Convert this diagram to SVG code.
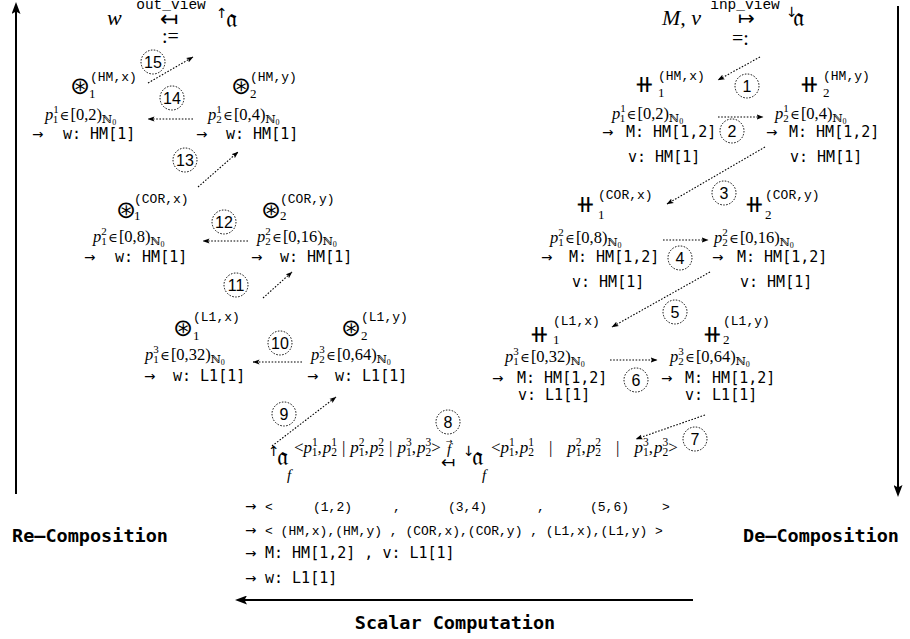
<svg xmlns="http://www.w3.org/2000/svg" width="910" height="639" viewBox="0 0 910 639">
<style>
text{fill:#000}
.mi{font-family:"Liberation Serif","DejaVu Serif",serif;font-style:italic}
.mr{font-family:"Liberation Serif","DejaVu Serif",serif}
.sy{font-family:"DejaVu Sans","Noto Sans",sans-serif}
.tt{font-family:"Liberation Mono","DejaVu Sans Mono",monospace}
.bm{font-family:"DejaVu Sans Mono",monospace;font-size:15px}
.ar{font-family:"DejaVu Sans",sans-serif;font-size:13.5px}
.op{font-family:"DejaVu Sans",sans-serif;font-size:24px}
.sup{font-family:"Liberation Mono","DejaVu Sans Mono",monospace;font-size:13px}
.sub{font-family:"Liberation Serif","DejaVu Serif",serif;font-size:13px}
.pl{font-family:"Liberation Serif","DejaVu Serif",serif;font-size:16.5px}
.it{font-style:italic}
.sc{font-size:11px}
.in{font-size:13px;font-family:"DejaVu Serif",serif}
.nn{font-size:11px;font-family:"DejaVu Serif",serif}
.n0{font-size:8px}
.sp{font-family:"Liberation Serif","DejaVu Serif",serif;font-size:17px}
.ss{font-size:11.5px}
.fr{font-family:"DejaVu Serif","DejaVu Sans","Noto Sans",serif;font-size:26px}
.bl{font-family:"DejaVu Sans Mono",monospace;font-weight:bold;font-size:18.5px}
.lt{font-family:"Liberation Mono","DejaVu Sans Mono",monospace;font-size:13px}
.dot{fill:none;stroke:#000;stroke-width:1.1;stroke-dasharray:1.6 1.6;marker-end:url(#sm)}
.big{fill:none;stroke:#000;stroke-width:2;marker-end:url(#bg)}
.cl circle{fill:#fff;stroke:#000;stroke-width:1;stroke-dasharray:1.5 1.5}
.cl text{font-family:"Liberation Sans","DejaVu Sans",sans-serif;font-size:16px;text-anchor:middle}
</style>
<defs>
<marker id="sm" markerUnits="userSpaceOnUse" markerWidth="7" markerHeight="6" refX="6.5" refY="3" orient="auto"><path d="M0,0.4 L7,3 L0,5.6 L1.5,3 z" fill="#000"/></marker>
<marker id="bg" markerUnits="userSpaceOnUse" markerWidth="12" markerHeight="9" refX="7" refY="4.5" orient="auto"><path d="M0,0 L12,4.5 L0,9 L2.5,4.5 z" fill="#000"/></marker>
</defs>

<g id="connectors">
<line class="big" x1="16" y1="494" x2="16" y2="7"/>
<line class="big" x1="898" y1="6" x2="898" y2="492"/>
<line class="big" x1="693" y1="600" x2="240" y2="600"/>
<line class="dot" x1="148" y1="83" x2="193" y2="57"/>
<line class="dot" x1="193" y1="119" x2="148" y2="119"/>
<line class="dot" x1="198" y1="187" x2="238" y2="152"/>
<line class="dot" x1="248" y1="241" x2="203" y2="241"/>
<line class="dot" x1="263" y1="298" x2="292" y2="272"/>
<line class="dot" x1="302" y1="362" x2="253" y2="362"/>
<line class="dot" x1="272" y1="446" x2="336" y2="397"/>
<line class="dot" x1="760" y1="57" x2="718" y2="80"/>
<line class="dot" x1="718" y1="117" x2="763" y2="117"/>
<line class="dot" x1="765" y1="147" x2="667" y2="204"/>
<line class="dot" x1="663" y1="240" x2="708" y2="240"/>
<line class="dot" x1="710" y1="272" x2="612" y2="327"/>
<line class="dot" x1="610" y1="360" x2="657" y2="360"/>
<line class="dot" x1="705" y1="415" x2="636" y2="439"/>
</g>

<g id="labels" class="cl">
<circle cx="153" cy="62" r="12"/><text x="153" y="67.5">15</text>
<circle cx="172" cy="98" r="12"/><text x="172" y="103.5">14</text>
<circle cx="185" cy="160" r="12"/><text x="185" y="165.5">13</text>
<circle cx="224" cy="222" r="12"/><text x="224" y="227.5">12</text>
<circle cx="236" cy="285" r="12"/><text x="236" y="290.5">11</text>
<circle cx="280" cy="343" r="12"/><text x="280" y="348.5">10</text>
<circle cx="284" cy="414" r="12"/><text x="284" y="419.5">9</text>
<circle cx="448" cy="422" r="12"/><text x="448" y="427.5">8</text>
<circle cx="747" cy="86" r="12"/><text x="747" y="91.5">1</text>
<circle cx="732" cy="131" r="12"/><text x="732" y="136.5">2</text>
<circle cx="724" cy="193" r="12"/><text x="724" y="198.5">3</text>
<circle cx="680" cy="258" r="12"/><text x="680" y="263.5">4</text>
<circle cx="675" cy="312" r="12"/><text x="675" y="317.5">5</text>
<circle cx="636" cy="380" r="12"/><text x="636" y="385.5">6</text>
<circle cx="695" cy="439" r="12"/><text x="695" y="444.5">7</text>
</g>

<g id="out-view">
<text x="107" y="25" class="mi" font-size="22">w</text>
<text x="171" y="9" class="tt" font-size="14.5" text-anchor="middle">out_view</text>
<text x="160" y="26" class="sy" font-size="22">↤</text>
<text x="162" y="43" class="mr" font-size="20">:=</text>
<text x="216" y="18" class="sy" font-size="14">↑</text>
<text x="226" y="27" class="fr">𝔞</text>
</g>

<g id="inp-view">
<text x="662" y="25" class="mi" font-size="22">M, v</text>
<text x="745" y="9" class="tt" font-size="14.5" text-anchor="middle">inp_view</text>
<text x="738" y="25" class="sy" font-size="20">↦</text>
<text x="732" y="45" class="mr" font-size="20">=:</text>
<text x="786" y="17" class="sy" font-size="14">↓</text>
<text x="793" y="26" class="fr">𝔞</text>
</g>

<g id="rc-hm-x">
<text x="70" y="94" class="op">⊛</text>
<text x="90" y="81" class="sup">(HM,x)</text>
<text x="89" y="98" class="sub">1</text>
<text x="45" y="120" class="pl"><tspan class="it">p</tspan><tspan class="sc" dy="-7">1</tspan><tspan class="sc" dx="-5.5" dy="10">1</tspan><tspan class="in" dx="1.5" dy="-3">∈</tspan><tspan dx="1">[0,2)</tspan><tspan class="nn" dy="3">ℕ</tspan><tspan class="n0" dy="2">0</tspan></text>
<text x="32" y="139" class="ar">→</text>
<text x="63" y="139" class="bm">w: HM[1]</text>
</g>
<g id="rc-hm-y">
<text x="231" y="94" class="op">⊛</text>
<text x="250" y="81" class="sup">(HM,y)</text>
<text x="250" y="98" class="sub">2</text>
<text x="208" y="120" class="pl"><tspan class="it">p</tspan><tspan class="sc" dy="-7">1</tspan><tspan class="sc" dx="-5.5" dy="10">2</tspan><tspan class="in" dx="1.5" dy="-3">∈</tspan><tspan dx="1">[0,4)</tspan><tspan class="nn" dy="3">ℕ</tspan><tspan class="n0" dy="2">0</tspan></text>
<text x="196" y="139" class="ar">→</text>
<text x="226" y="139" class="bm">w: HM[1]</text>
</g>
<g id="rc-cor-x">
<text x="116" y="218" class="op">⊛</text>
<text x="134" y="203" class="sup">(COR,x)</text>
<text x="134" y="220" class="sub">1</text>
<text x="93" y="242" class="pl"><tspan class="it">p</tspan><tspan class="sc" dy="-7">2</tspan><tspan class="sc" dx="-5.5" dy="10">1</tspan><tspan class="in" dx="1.5" dy="-3">∈</tspan><tspan dx="1">[0,8)</tspan><tspan class="nn" dy="3">ℕ</tspan><tspan class="n0" dy="2">0</tspan></text>
<text x="84" y="262" class="ar">→</text>
<text x="115" y="262" class="bm">w: HM[1]</text>
</g>
<g id="rc-cor-y">
<text x="261" y="218" class="op">⊛</text>
<text x="280" y="203" class="sup">(COR,y)</text>
<text x="280" y="220" class="sub">2</text>
<text x="257" y="242" class="pl"><tspan class="it">p</tspan><tspan class="sc" dy="-7">2</tspan><tspan class="sc" dx="-5.5" dy="10">2</tspan><tspan class="in" dx="1.5" dy="-3">∈</tspan><tspan dx="1">[0,16)</tspan><tspan class="nn" dy="3">ℕ</tspan><tspan class="n0" dy="2">0</tspan></text>
<text x="251" y="262" class="ar">→</text>
<text x="280" y="262" class="bm">w: HM[1]</text>
</g>
<g id="rc-l1-x">
<text x="173" y="336" class="op">⊛</text>
<text x="193" y="321" class="sup">(L1,x)</text>
<text x="193" y="340" class="sub">1</text>
<text x="145" y="360" class="pl"><tspan class="it">p</tspan><tspan class="sc" dy="-7">3</tspan><tspan class="sc" dx="-5.5" dy="10">1</tspan><tspan class="in" dx="1.5" dy="-3">∈</tspan><tspan dx="1">[0,32)</tspan><tspan class="nn" dy="3">ℕ</tspan><tspan class="n0" dy="2">0</tspan></text>
<text x="144" y="381" class="ar">→</text>
<text x="173" y="381" class="bm">w: L1[1]</text>
</g>
<g id="rc-l1-y">
<text x="341" y="336" class="op">⊛</text>
<text x="361" y="321" class="sup">(L1,y)</text>
<text x="361" y="340" class="sub">2</text>
<text x="311" y="360" class="pl"><tspan class="it">p</tspan><tspan class="sc" dy="-7">3</tspan><tspan class="sc" dx="-5.5" dy="10">2</tspan><tspan class="in" dx="1.5" dy="-3">∈</tspan><tspan dx="1">[0,64)</tspan><tspan class="nn" dy="3">ℕ</tspan><tspan class="n0" dy="2">0</tspan></text>
<text x="307" y="381" class="ar">→</text>
<text x="335" y="381" class="bm">w: L1[1]</text>
</g>

<g id="dc-hm-x">
<text x="634" y="92" class="op">⧺</text>
<text x="658" y="80" class="sup">(HM,x)</text>
<text x="658" y="97" class="sub">1</text>
<text x="612" y="119" class="pl"><tspan class="it">p</tspan><tspan class="sc" dy="-7">1</tspan><tspan class="sc" dx="-5.5" dy="10">1</tspan><tspan class="in" dx="1.5" dy="-3">∈</tspan><tspan dx="1">[0,2)</tspan><tspan class="nn" dy="3">ℕ</tspan><tspan class="n0" dy="2">0</tspan></text>
<text x="602" y="137" class="ar">→</text>
<text x="626" y="137" class="bm">M: HM[1,2]</text>
<text x="628" y="162" class="bm">v: HM[1]</text>
</g>
<g id="dc-hm-y">
<text x="799" y="92" class="op">⧺</text>
<text x="823" y="80" class="sup">(HM,y)</text>
<text x="823" y="97" class="sub">2</text>
<text x="775" y="119" class="pl"><tspan class="it">p</tspan><tspan class="sc" dy="-7">1</tspan><tspan class="sc" dx="-5.5" dy="10">2</tspan><tspan class="in" dx="1.5" dy="-3">∈</tspan><tspan dx="1">[0,4)</tspan><tspan class="nn" dy="3">ℕ</tspan><tspan class="n0" dy="2">0</tspan></text>
<text x="766" y="137" class="ar">→</text>
<text x="789" y="137" class="bm">M: HM[1,2]</text>
<text x="790" y="162" class="bm">v: HM[1]</text>
</g>
<g id="dc-cor-x">
<text x="575" y="212" class="op">⧺</text>
<text x="598" y="199" class="sup">(COR,x)</text>
<text x="598" y="219" class="sub">1</text>
<text x="550" y="243" class="pl"><tspan class="it">p</tspan><tspan class="sc" dy="-7">2</tspan><tspan class="sc" dx="-5.5" dy="10">1</tspan><tspan class="in" dx="1.5" dy="-3">∈</tspan><tspan dx="1">[0,8)</tspan><tspan class="nn" dy="3">ℕ</tspan><tspan class="n0" dy="2">0</tspan></text>
<text x="541" y="262" class="ar">→</text>
<text x="569" y="262" class="bm">M: HM[1,2]</text>
<text x="572" y="287" class="bm">v: HM[1]</text>
</g>
<g id="dc-cor-y">
<text x="744" y="212" class="op">⧺</text>
<text x="765" y="199" class="sup">(COR,y)</text>
<text x="765" y="219" class="sub">2</text>
<text x="714" y="243" class="pl"><tspan class="it">p</tspan><tspan class="sc" dy="-7">2</tspan><tspan class="sc" dx="-5.5" dy="10">2</tspan><tspan class="in" dx="1.5" dy="-3">∈</tspan><tspan dx="1">[0,16)</tspan><tspan class="nn" dy="3">ℕ</tspan><tspan class="n0" dy="2">0</tspan></text>
<text x="712" y="262" class="ar">→</text>
<text x="737" y="262" class="bm">M: HM[1,2]</text>
<text x="740" y="287" class="bm">v: HM[1]</text>
</g>
<g id="dc-l1-x">
<text x="529" y="342" class="op">⧺</text>
<text x="553" y="325" class="sup">(L1,x)</text>
<text x="553" y="344" class="sub">1</text>
<text x="505" y="362" class="pl"><tspan class="it">p</tspan><tspan class="sc" dy="-7">3</tspan><tspan class="sc" dx="-5.5" dy="10">1</tspan><tspan class="in" dx="1.5" dy="-3">∈</tspan><tspan dx="1">[0,32)</tspan><tspan class="nn" dy="3">ℕ</tspan><tspan class="n0" dy="2">0</tspan></text>
<text x="492" y="383" class="ar">→</text>
<text x="517" y="383" class="bm">M: HM[1,2]</text>
<text x="518" y="400" class="bm">v: L1[1]</text>
</g>
<g id="dc-l1-y">
<text x="702" y="342" class="op">⧺</text>
<text x="723" y="325" class="sup">(L1,y)</text>
<text x="723" y="344" class="sub">2</text>
<text x="670" y="362" class="pl"><tspan class="it">p</tspan><tspan class="sc" dy="-7">3</tspan><tspan class="sc" dx="-5.5" dy="10">2</tspan><tspan class="in" dx="1.5" dy="-3">∈</tspan><tspan dx="1">[0,64)</tspan><tspan class="nn" dy="3">ℕ</tspan><tspan class="n0" dy="2">0</tspan></text>
<text x="661" y="383" class="ar">→</text>
<text x="685" y="383" class="bm">M: HM[1,2]</text>
<text x="685" y="400" class="bm">v: L1[1]</text>
</g>

<g id="scalar">
<text x="268" y="456" class="sy" font-size="14">↑</text>
<text x="277" y="465" class="fr">𝔞</text>
<text x="287" y="480" class="mi" font-size="15">f</text>
<text x="294" y="453" class="sp">&lt;<tspan class="it">p</tspan><tspan class="ss" dy="-7">1</tspan><tspan class="ss" dx="-5.75" dy="10">1</tspan><tspan dy="-3">,</tspan><tspan class="it" dx="1">p</tspan><tspan class="ss" dy="-7">1</tspan><tspan class="ss" dx="-5.75" dy="10">2</tspan><tspan dx="5" dy="-3">|</tspan><tspan class="it" dx="5">p</tspan><tspan class="ss" dy="-7">2</tspan><tspan class="ss" dx="-5.75" dy="10">1</tspan><tspan dy="-3">,</tspan><tspan class="it" dx="1">p</tspan><tspan class="ss" dy="-7">2</tspan><tspan class="ss" dx="-5.75" dy="10">2</tspan><tspan dx="5" dy="-3">|</tspan><tspan class="it" dx="5">p</tspan><tspan class="ss" dy="-7">3</tspan><tspan class="ss" dx="-5.75" dy="10">1</tspan><tspan dy="-3">,</tspan><tspan class="it" dx="1">p</tspan><tspan class="ss" dy="-7">3</tspan><tspan class="ss" dx="-5.75" dy="10">2</tspan><tspan dy="-3">&gt;</tspan></text>
<text x="446" y="444" class="sy" font-size="8">→</text>
<text x="447" y="454" class="mi" font-size="15">f</text>
<text x="441" y="468" class="sy" font-size="17">↤</text>
<text x="463" y="456" class="sy" font-size="14">↓</text>
<text x="472" y="465" class="fr">𝔞</text>
<text x="482" y="480" class="mi" font-size="15">f</text>
<text x="491" y="453" class="sp">&lt;<tspan class="it">p</tspan><tspan class="ss" dy="-7">1</tspan><tspan class="ss" dx="-5.75" dy="10">1</tspan><tspan dy="-3">,</tspan><tspan class="it" dx="1">p</tspan><tspan class="ss" dy="-7">1</tspan><tspan class="ss" dx="-5.75" dy="10">2</tspan><tspan dx="15" dy="-3">|</tspan><tspan class="it" dx="15">p</tspan><tspan class="ss" dy="-7">2</tspan><tspan class="ss" dx="-5.75" dy="10">1</tspan><tspan dy="-3">,</tspan><tspan class="it" dx="1">p</tspan><tspan class="ss" dy="-7">2</tspan><tspan class="ss" dx="-5.75" dy="10">2</tspan><tspan dx="15" dy="-3">|</tspan><tspan class="it" dx="15">p</tspan><tspan class="ss" dy="-7">3</tspan><tspan class="ss" dx="-5.75" dy="10">1</tspan><tspan dy="-3">,</tspan><tspan class="it" dx="1">p</tspan><tspan class="ss" dy="-7">3</tspan><tspan class="ss" dx="-5.75" dy="10">2</tspan><tspan dy="-3">&gt;</tspan></text>
<text x="245" y="511" class="ar">→</text>
<text x="265" y="511" class="lt">&lt;</text>
<text x="313" y="511" class="lt">(1,2)</text>
<text x="393" y="511" class="lt">,</text>
<text x="448" y="511" class="lt">(3,4)</text>
<text x="537" y="511" class="lt">,</text>
<text x="590" y="511" class="lt">(5,6)</text>
<text x="662" y="511" class="lt">&gt;</text>
<text x="245" y="535" class="ar">→</text>
<text x="265" y="535" class="lt" xml:space="preserve">&lt; (HM,x),(HM,y) , (COR,x),(COR,y) , (L1,x),(L1,y) &gt;</text>
<text x="245" y="558" class="ar">→</text>
<text x="265" y="558" class="bm" xml:space="preserve">M: HM[1,2] , v: L1[1]</text>
<text x="245" y="583" class="ar">→</text>
<text x="265" y="583" class="bm">w: L1[1]</text>
</g>

<g id="axis-labels">
<text x="12" y="542" class="bl">Re–Composition</text>
<text x="743" y="542" class="bl">De–Composition</text>
<text x="455" y="629" class="bl" text-anchor="middle">Scalar Computation</text>
</g>
</svg>
